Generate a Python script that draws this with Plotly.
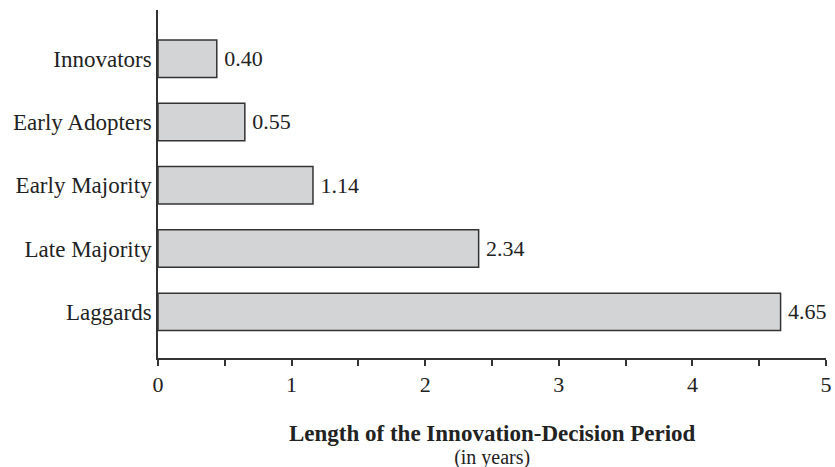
import plotly.graph_objects as go

categories = ["Laggards", "Late Majority", "Early Majority", "Early Adopters", "Innovators"]
bar_lengths = [4.66, 2.40, 1.16, 0.65, 0.44]
value_labels = ["4.65", "2.34", "1.14", "0.55", "0.40"]
tick_vals = [0, 0.5, 1, 1.5, 2, 2.5, 3, 3.5, 4, 4.5, 5]
tick_text = ["0", "", "1", "", "2", "", "3", "", "4", "", "5"]

FONT = "Liberation Serif"
INK = "#222222"

fig = go.Figure(go.Bar(
    y=categories,
    x=bar_lengths,
    orientation="h",
    width=0.59,
    marker=dict(color="#d3d4d6", line=dict(color="#333333", width=1.5)),
    text=["\u2009" + t for t in value_labels],
    textposition="outside",
    textfont=dict(family=FONT, size=22, color=INK),
    cliponaxis=False,
))

fig.update_layout(
    width=835, height=467,
    margin=dict(l=158, r=9, t=10, b=109, autoexpand=False),
    paper_bgcolor="white", plot_bgcolor="white",
    showlegend=False,
    font=dict(family=FONT, size=22, color=INK),
    xaxis=dict(
        range=[0, 5], tickvals=tick_vals, ticktext=tick_text,
        showline=True, linecolor="#333333", linewidth=1.5,
        ticks="outside", ticklen=6, tickcolor="#333333", tickwidth=1.5,
        showgrid=False, zeroline=False, automargin=False,
        tickfont=dict(family=FONT, size=22, color=INK),
    ),
    yaxis=dict(
        range=[-0.73, 4.77],
        showline=True, linecolor="#333333", linewidth=1.5,
        ticks="", showgrid=False, zeroline=False, automargin=False,
        tickfont=dict(family=FONT, size=23, color=INK),
        ticklabelstandoff=0,
    ),
    annotations=[
        dict(text="<span style='font-size:23px'><b>Length of the Innovation-Decision Period</b></span>"
                  "<br><span style='font-size:20px'>(in years)</span>",
             xref="paper", yref="paper",
             x=0.5, y=0, yanchor="middle", yshift=-87, showarrow=False,
             font=dict(family=FONT, size=18, color=INK)),
    ],
)

fig.write_html("out.html", config={"displayModeBar": False},
               post_script="document.body.style.margin='0';document.body.style.overflow='hidden';")
